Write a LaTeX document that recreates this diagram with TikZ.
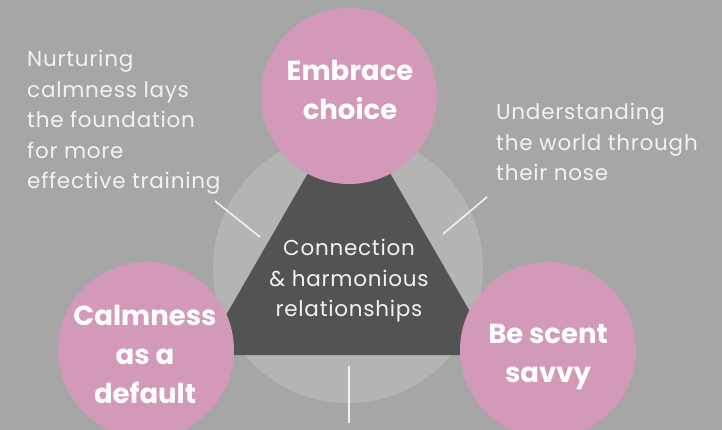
\documentclass[tikz,border=0pt]{standalone}
\usepackage{fontspec}
\setmainfont{Poppins}
\newfontfamily\notefont[LetterSpace=3.5]{Poppins}
\usetikzlibrary{positioning}

\definecolor{bggray}{HTML}{A6A6A6}
\definecolor{ringgray}{HTML}{B4B4B4}
\definecolor{darkgray}{HTML}{535353}
\definecolor{rosepink}{HTML}{D399B8}
\definecolor{softwhite}{HTML}{F2F2F2}

\tikzset{
  pinkcircle/.style={circle, fill=rosepink, minimum size=176pt, inner sep=0pt},
  bold label/.style={text=white, align=center, inner sep=0pt,
    font=\bfseries\fontsize{27.5}{39}\selectfont},
  note/.style={text=softwhite, align=left, inner sep=0pt, anchor=north west,
    font=\notefont\fontsize{21.5}{30.5}\selectfont},
  pointer/.style={draw=softwhite, line width=1.6pt}
}

\begin{document}
\begin{tikzpicture}[x=1pt,y=-1pt]

\fill [bggray] (0,0) rectangle (722,430);
\useasboundingbox (0,0) rectangle (722,430);

% middle
\fill [ringgray] (348,268) circle (135);
\fill [darkgray] (203,355) -- (495,355) -- (349,102) -- cycle;

\node [pinkcircle] (Etop) at (349,96) {};
\node [pinkcircle] (Cleft) at (146,350) {};
\node [pinkcircle] (Sright) at (548,350) {};

\node [bold label] (E) at (350,90) {Embrace\\choice};
\node [bold label] (C) at (145,354) {Calmness\\as a\\default};
\node [bold label] (S) at (548,357) {Be scent\\savvy};

\node [note, align=center, anchor=center] (R) at (349,281) {Connection\\\& harmonious\\relationships};

\node [note] (N) at (27,50) {Nurturing\\calmness lays\\the foundation\\for more\\effective training};
\node [note] (U) at (496,103) {Understanding\\the world through\\their nose};

% pointers
\coordinate (l1) at (215,201);
\coordinate (l2) at (260,237);
\coordinate (r1) at (487,197);
\coordinate (r2) at (443,234);
\coordinate (b1) at (349,366);
\coordinate (b2) at (349,423);

\path [pointer] (l1) edge (l2);
\path [pointer] (r1) edge (r2);
\path [pointer] (b1) edge (b2);
\end{tikzpicture}
\end{document}
